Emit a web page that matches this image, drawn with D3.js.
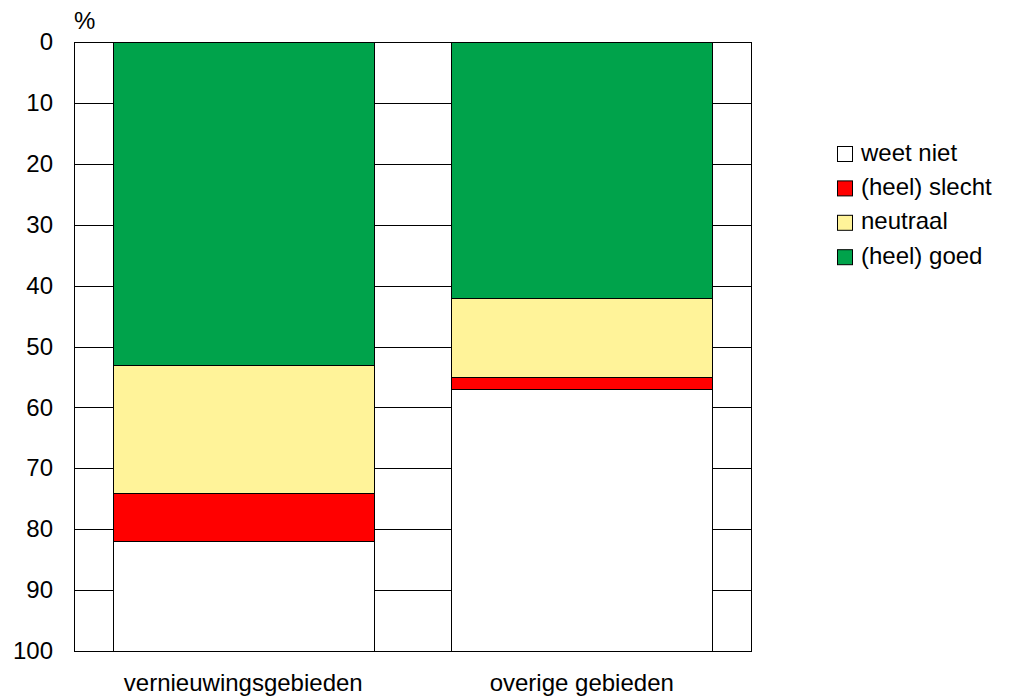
<!DOCTYPE html>
<html>
<head>
<meta charset="utf-8">
<script src="https://cdn.jsdelivr.net/npm/d3@7"></script>
<style>
  body { margin: 0; background: #fff; }
  text { font-family: Arial, "Liberation Sans", sans-serif; fill: #000; }
</style>
</head>
<body>
<script>
// data
var categories = ["vernieuwingsgebieden", "overige gebieden"];
var seriesNames = ["(heel) goed", "neutraal", "(heel) slecht", "weet niet"];
var goed = [53, 42];
var neutraal = [21, 13];
var slecht = [8, 2];
var weetNiet = [18, 43];
var yTicks = [0, 10, 20, 30, 40, 50, 60, 70, 80, 90, 100];
var legendOrder = ["weet niet", "(heel) slecht", "neutraal", "(heel) goed"];

var colors = {
  "(heel) goed": "#00a34b",
  "neutraal": "#fff399",
  "(heel) slecht": "#ff0000",
  "weet niet": "#ffffff"
};

var w = 1010, h = 696,
    margin = {top: 42, right: 259, bottom: 45, left: 74},
    fontSize = "24px";

var svg = d3.select("body").append("svg").attr("width", w).attr("height", h);
var g = svg.append("g").attr("transform", "translate(" + margin.left + "," + margin.top + ")");

var iw = w - margin.left - margin.right,
    ih = h - margin.top - margin.bottom;

var x = d3.scaleBand().domain(categories).range([0, iw]).paddingInner(0.23).paddingOuter(0.115);
var y = d3.scaleLinear().domain([0, 100]).range([0, ih]);

var rows = categories.map(function (c, i) {
  return {cat: c, "(heel) goed": goed[i], "neutraal": neutraal[i], "(heel) slecht": slecht[i], "weet niet": weetNiet[i]};
});
var stacked = d3.stack().keys(seriesNames)(rows);

// gridlines
g.selectAll("line.grid").data(yTicks).enter().append("line")
  .attr("x1", 0).attr("x2", iw)
  .attr("y1", function (d) { return Math.round(y(d)) + 0.5; })
  .attr("y2", function (d) { return Math.round(y(d)) + 0.5; })
  .attr("stroke", "#000").attr("stroke-width", 1);

// bars
g.selectAll("g.series").data(stacked).enter().append("g")
  .attr("fill", function (d) { return colors[d.key]; })
  .selectAll("rect").data(function (d) { return d; }).enter().append("rect")
  .attr("x", function (d) { return Math.round(x(d.data.cat)) + 0.5; })
  .attr("width", Math.round(x.bandwidth()))
  .attr("y", function (d) { return Math.round(y(d[0])) + 0.5; })
  .attr("height", function (d) { return Math.round(y(d[1])) - Math.round(y(d[0])); })
  .attr("stroke", "#000").attr("stroke-width", 1);

// frame
g.append("rect").attr("x", 0.5).attr("y", 0.5).attr("width", Math.round(iw)).attr("height", Math.round(ih))
  .attr("fill", "none").attr("stroke", "#000").attr("stroke-width", 1);

// y axis
var yAxis = g.append("g").call(d3.axisLeft(y).tickValues(yTicks).tickSize(0).tickPadding(21));
yAxis.select(".domain").remove();
yAxis.selectAll("text").style("font-size", fontSize).style("font-family", "Arial, 'Liberation Sans', sans-serif");

// x axis
var xAxis = g.append("g").attr("transform", "translate(0," + ih + ")")
  .call(d3.axisBottom(x).tickSize(0).tickPadding(23));
xAxis.select(".domain").remove();
xAxis.selectAll("text").style("font-size", fontSize).style("font-family", "Arial, 'Liberation Sans', sans-serif");

svg.append("text").attr("x", 74).attr("y", 29).style("font-size", fontSize).text("%");

// legend
var legend = svg.append("g").attr("transform", "translate(837,146)");
var item = legend.selectAll("g").data(legendOrder).enter().append("g")
  .attr("transform", function (d, i) { return "translate(0," + (i * 34.4) + ")"; });
item.append("rect").attr("x", 0.5).attr("y", 0.5).attr("width", 15).attr("height", 15)
  .attr("fill", function (d) { return colors[d]; }).attr("stroke", "#000");
item.append("text").attr("x", 24).attr("y", 14.5).style("font-size", fontSize).text(function (d) { return d; });
</script>
</body>
</html>
